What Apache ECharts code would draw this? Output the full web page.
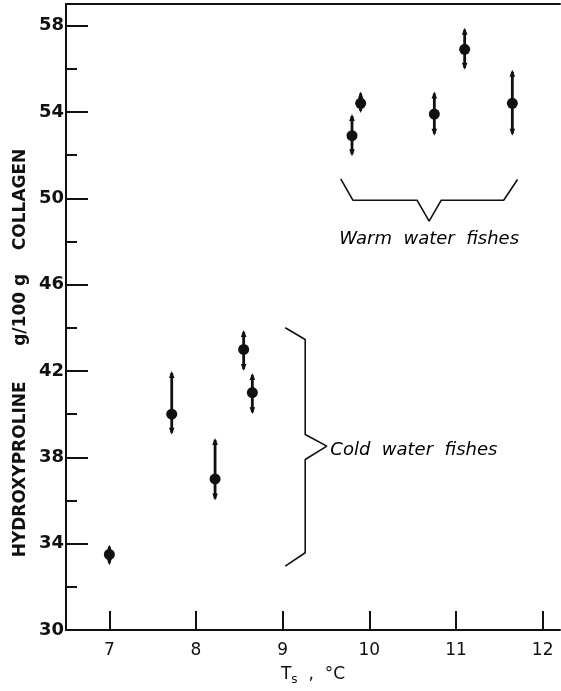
<!DOCTYPE html>
<html>
<head>
<meta charset="utf-8">
<script src="https://cdn.jsdelivr.net/npm/echarts@6/dist/echarts.min.js"></script>
<style>
  html, body { margin: 0; padding: 0; background: #ffffff; }
  #chart { width: 561px; height: 691px; }
</style>
</head>
<body>
<div id="chart"></div>
<script>
// Shrinkage temperature vs hydroxyproline content of fish collagens
var warmTs   = [9.8, 9.9, 10.75, 11.1, 11.65];
var warmHyp  = [52.9, 54.4, 53.9, 56.9, 54.4];
var warmLow  = [51.95, 53.95, 52.9, 55.95, 52.9];
var warmHigh = [53.9, 54.95, 54.95, 57.9, 55.95];

var coldTs   = [7.0, 7.72, 8.22, 8.55, 8.65];
var coldHyp  = [33.5, 40.0, 37.0, 43.0, 41.0];
var coldLow  = [33.0, 39.05, 36.0, 42.0, 40.0];
var coldHigh = [33.95, 42.0, 38.9, 43.9, 41.9];

var xTicks = [7, 8, 9, 10, 11, 12];
var yMajorTicks = [30, 34, 38, 42, 46, 50, 54, 58];
var yMinorTicks = [32, 36, 40, 44, 48, 52, 56];

// group brackets, in data units
var warmBracketX = [9.67, 9.81, 10.55, 10.69, 10.83, 11.55, 11.71];
var warmBracketY = [50.9, 49.91, 49.91, 48.94, 49.91, 49.91, 50.87];
var coldBracketX = [9.03, 9.26, 9.26, 9.51, 9.26, 9.26, 9.03];
var coldBracketY = [44.0, 43.46, 39.06, 38.52, 37.9, 33.58, 32.96];

var groupNames = ['Warm  water  fishes', 'Cold  water  fishes'];
var groupLabelX = [10.69, 9.55];
var groupLabelY = [48.1, 38.75];

var INK = '#111111';

function zip(xs, ys) { return xs.map(function (x, i) { return [x, ys[i]]; }); }

var points = zip(warmTs, warmHyp).concat(zip(coldTs, coldHyp));
var bars = warmTs.map(function (x, i) { return [x, warmLow[i], warmHigh[i]]; })
  .concat(coldTs.map(function (x, i) { return [x, coldLow[i], coldHigh[i]]; }));

// vertical range bar with an arrowhead at each end
function renderBar(params, api) {
  var x = api.value(0);
  var lo = api.coord([x, api.value(1)]);
  var hi = api.coord([x, api.value(2)]);
  var hw = 2.8, ah = 7;
  return {
    type: 'group',
    children: [
      { type: 'line', shape: { x1: lo[0], y1: lo[1] - 2, x2: hi[0], y2: hi[1] + 2 },
        style: { stroke: INK, lineWidth: 2.8 } },
      { type: 'polygon', shape: { points: [[hi[0], hi[1]], [hi[0] - hw, hi[1] + ah], [hi[0] + hw, hi[1] + ah]] },
        style: { fill: INK } },
      { type: 'polygon', shape: { points: [[lo[0], lo[1]], [lo[0] - hw, lo[1] - ah], [lo[0] + hw, lo[1] - ah]] },
        style: { fill: INK } }
    ]
  };
}

var chart = echarts.init(document.getElementById('chart'), null, { renderer: 'canvas' });

var option = {
  backgroundColor: '#ffffff',
  animation: false,
  grid: { left: 66, right: 1, top: 4, bottom: 60 },
  xAxis: [{
    type: 'value', min: 6.5, max: 12.2,
    axisLine: { show: true, lineStyle: { color: INK, width: 2 } },
    axisTick: { show: true, inside: true, length: 19, customValues: xTicks, lineStyle: { color: INK, width: 2 } },
    axisLabel: { customValues: xTicks, margin: 12, color: INK, fontFamily: 'DejaVu Sans', fontSize: 17 },
    splitLine: { show: false },
    name: 'T{s|s}  ,  °C',
    nameLocation: 'middle',
    nameGap: 34,
    nameTextStyle: {
      color: INK, fontFamily: 'DejaVu Sans', fontSize: 17,
      rich: { s: { fontFamily: 'DejaVu Sans', fontSize: 12, color: INK, verticalAlign: 'bottom', padding: [10, 0, 0, 0] } }
    }
  }, {
    type: 'value', min: 6.5, max: 12.2, position: 'top',
    axisLine: { show: true, lineStyle: { color: INK, width: 2 } },
    axisTick: { show: false }, axisLabel: { show: false }, splitLine: { show: false }
  }],
  yAxis: [{
    type: 'value', min: 30, max: 59,
    axisLine: { show: true, lineStyle: { color: INK, width: 2 } },
    axisTick: { show: true, inside: true, length: 22, customValues: yMajorTicks, lineStyle: { color: INK, width: 2 } },
    axisLabel: { customValues: yMajorTicks, margin: 2, color: INK, fontFamily: 'DejaVu Sans', fontWeight: 'bold', fontSize: 18 },
    splitLine: { show: false }
  }, {
    type: 'value', min: 30, max: 59, position: 'left',
    axisLine: { show: false },
    axisTick: { show: true, inside: true, length: 11, customValues: yMinorTicks, lineStyle: { color: INK, width: 2 } },
    axisLabel: { show: false }, splitLine: { show: false }
  }],
  graphic: [{
    type: 'text', x: 21, y: 353, rotation: Math.PI / 2,
    style: {
      text: 'HYDROXYPROLINE      g/100 g    COLLAGEN',
      font: 'bold 17px "DejaVu Sans"', fill: INK, align: 'center', verticalAlign: 'middle'
    }
  }],
  series: [
    {
      type: 'custom', name: 'range', renderItem: renderBar, data: bars,
      encode: { x: 0, y: [1, 2] }, silent: true, z: 2
    },
    {
      type: 'scatter', name: 'mean', data: points, symbol: 'circle', symbolSize: 11,
      itemStyle: { color: INK, opacity: 1 }, silent: true, z: 3
    },
    {
      type: 'line', name: 'warm group', data: zip(warmBracketX, warmBracketY), symbol: 'none',
      lineStyle: { color: INK, width: 1.6 }, silent: true
    },
    {
      type: 'line', name: 'cold group', data: zip(coldBracketX, coldBracketY), symbol: 'none',
      lineStyle: { color: INK, width: 1.6 }, silent: true
    },
    {
      type: 'scatter', name: 'group labels', symbolSize: 0, silent: true,
      data: groupNames.map(function (n, i) { return { name: n, value: [groupLabelX[i], groupLabelY[i]] }; }),
      itemStyle: { opacity: 1 },
      label: {
        show: true, formatter: '{b}', color: '#000000', opacity: 1,
        fontFamily: 'DejaVu Sans', fontStyle: 'italic', fontSize: 18,
        position: 'inside'
      },
      labelLayout: function (p) { return p.dataIndex === 1 ? { align: 'left', x: p.rect.x } : {}; }
    }
  ]
};

chart.setOption(option);
</script>
</body>
</html>
